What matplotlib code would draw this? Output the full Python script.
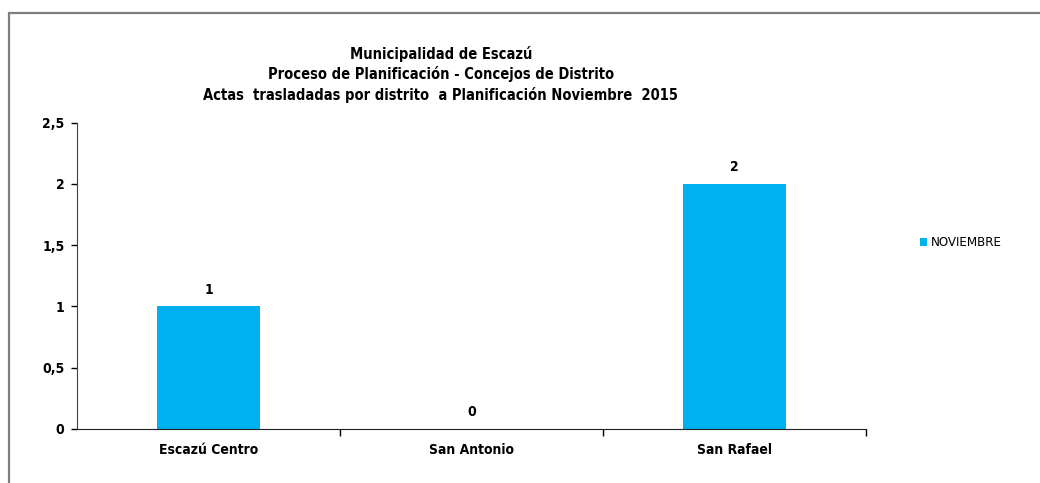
import matplotlib
matplotlib.use('Agg')
from matplotlib import pyplot as plt
from matplotlib.patches import Rectangle
from matplotlib.ticker import FuncFormatter

distritos = ["Escazú Centro", "San Antonio", "San Rafael"]
noviembre = [1, 0, 2]
serie = "NOVIEMBRE"
titulo = ["Municipalidad de Escazú",
          "Proceso de Planificación - Concejos de Distrito",
          "Actas  trasladadas por distrito  a Planificación Noviembre  2015"]

plt.rcParams['font.family'] = ['DejaVu Sans']
plt.rcParams['font.stretch'] = 'condensed'

fig = plt.figure(figsize=(10.4, 4.83), dpi=100)
ax = fig.add_axes([0.074, 0.112, 0.7587, 0.634])

# outer chart border (gray)
fig.patches.append(Rectangle((0.0087, -0.1), 1.2, 0.974 + 0.1, transform=fig.transFigure,
                             fill=False, edgecolor='#7f7f7f', linewidth=1.6))

x = range(len(distritos))
barras = ax.bar(x, noviembre, width=0.39, color='#00B0F0', label=serie)
for xi, v in zip(x, noviembre):
    ax.annotate(str(v), (xi, v), xytext=(0, 7), textcoords='offset points',
                ha='center', va='bottom', fontsize=10, fontweight='bold')

ax.set_xlim(-0.5, len(distritos) - 0.5)
ax.set_ylim(0, 2.5)
ax.set_yticks([0, 0.5, 1, 1.5, 2, 2.5])
ax.yaxis.set_major_formatter(FuncFormatter(lambda v, p: ('%g' % v).replace('.', ',')))
ax.set_xticks(list(x))
ax.set_xticklabels(distritos, fontsize=10, fontweight='bold')
ax.set_xticks([i + 0.5 for i in x], minor=True)
ax.tick_params(axis='x', which='major', length=0, pad=10)
ax.tick_params(axis='x', which='minor', length=5, width=1, direction='out')
ax.tick_params(axis='y', length=4, width=1, direction='out', pad=5, labelsize=10)
for lab in ax.get_yticklabels():
    lab.set_fontweight('bold')

for s in ['top', 'right']:
    ax.spines[s].set_visible(False)
ax.spines['left'].set_color('#404040')
ax.spines['bottom'].set_color('#202020')

for i, t in enumerate(titulo):
    fig.text(0.424, 1 - (54 + i * 20.5) / 483, t, ha='center', va='center',
             fontsize=10.5, fontweight='bold')

fig.legend(handles=[barras], labels=[serie], loc='center left',
           bbox_to_anchor=(0.873, 0.497), frameon=False, fontsize=9.5,
           handlelength=0.55, handleheight=0.55, handletextpad=0.3)

fig.savefig('out.png', dpi=100)
